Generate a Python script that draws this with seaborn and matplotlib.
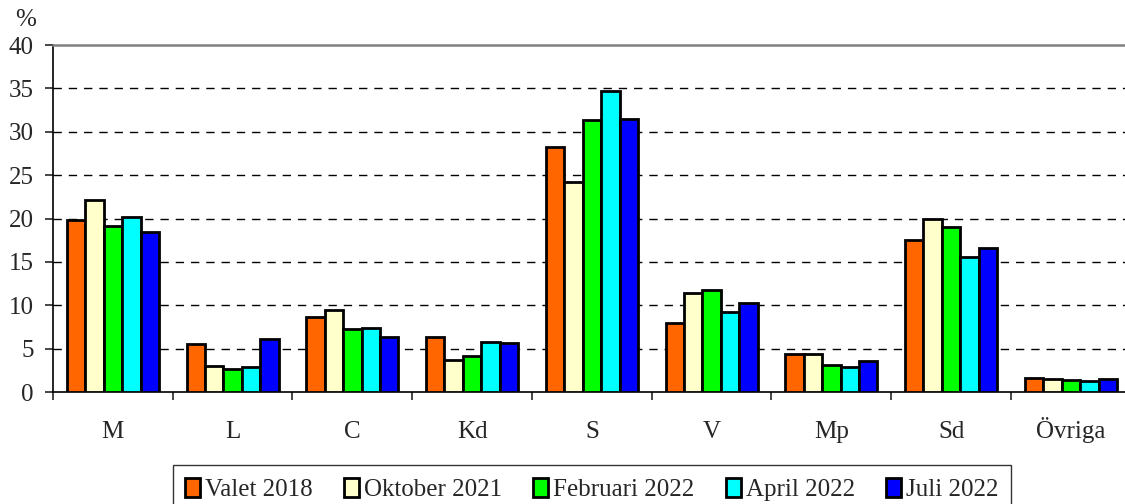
import matplotlib
matplotlib.use("Agg")
import matplotlib.pyplot as plt
import numpy as np
import pandas as pd
import seaborn as sns

parties = ["M", "L", "C", "Kd", "S", "V", "Mp", "Sd", "Övriga"]
periods = ["Valet 2018", "Oktober 2021", "Februari 2022", "April 2022", "Juli 2022"]

valet_2018 = [19.8, 5.5, 8.6, 6.3, 28.3, 8.0, 4.4, 17.5, 1.6]
oktober_2021 = [22.1, 3.0, 9.5, 3.7, 24.2, 11.4, 4.4, 19.9, 1.5]
februari_2022 = [19.1, 2.7, 7.3, 4.2, 31.4, 11.8, 3.1, 19.0, 1.4]
april_2022 = [20.2, 2.9, 7.4, 5.8, 34.7, 9.2, 2.9, 15.6, 1.3]
juli_2022 = [18.5, 6.1, 6.3, 5.7, 31.5, 10.3, 3.6, 16.6, 1.5]

colors = ["#FF6600", "#FFFFCC", "#00FF00", "#00FFFF", "#0000FF"]

series = [valet_2018, oktober_2021, februari_2022, april_2022, juli_2022]
df = pd.DataFrame(
    [(p, per, v) for per, vals in zip(periods, series) for p, v in zip(parties, vals)],
    columns=["parti", "period", "value"],
)

sns.set_style("white")
plt.rcParams["font.family"] = ["Liberation Serif", "DejaVu Serif"]
plt.rcParams["font.size"] = 18

fig = plt.figure(figsize=(11.25, 5.04), dpi=100)
ax = fig.add_axes([0.0471, 0.2222, 0.958, 0.6885])

sns.barplot(
    data=df, x="parti", y="value", hue="period", hue_order=periods,
    palette=colors, saturation=1, width=0.77, edgecolor="black",
    linewidth=2.0, ax=ax, zorder=3,
)

ax.set_xlim(-0.5, len(parties) - 0.5)
ax.set_ylim(0, 40)
ax.set_yticks(np.arange(0, 41, 5))
ax.set_xlabel("")
ax.set_ylabel("")

for y in range(5, 40, 5):
    ax.axhline(y, color="black", linewidth=1.0, dashes=(6, 5), zorder=1)

ax.spines["top"].set_color("#808080")
ax.spines["top"].set_linewidth(1.8)
ax.spines["right"].set_visible(False)
ax.spines["left"].set_color("black")
ax.spines["left"].set_linewidth(1.2)
ax.spines["bottom"].set_color("black")
ax.spines["bottom"].set_linewidth(1.2)

ax.tick_params(axis="y", left=True, length=6, width=1.2, pad=8, labelsize=18)
ax.tick_params(axis="x", which="major", bottom=True, length=0, pad=33, labelsize=18)
ax.set_xticks(np.arange(-0.5, len(parties), 1), minor=True)
ax.tick_params(axis="x", which="minor", bottom=True, length=6, width=1.2)
for lbl in ax.get_xticklabels():
    lbl.set_verticalalignment("baseline")

fig.text(0.023, 0.96, "%", fontsize=18, ha="center", va="center")

handles, labels = ax.get_legend_handles_labels()
ax.legend(
    handles, labels, ncol=5, loc="upper center", bbox_to_anchor=(0.5, -0.175),
    frameon=True, fancybox=False, edgecolor="black", fontsize=18,
    handlelength=0.6, handleheight=0.8, handletextpad=0.2, columnspacing=1.25,
    borderpad=0.5, borderaxespad=0.5,
).get_frame().set_linewidth(1.0)

fig.savefig("out.png", dpi=100)
